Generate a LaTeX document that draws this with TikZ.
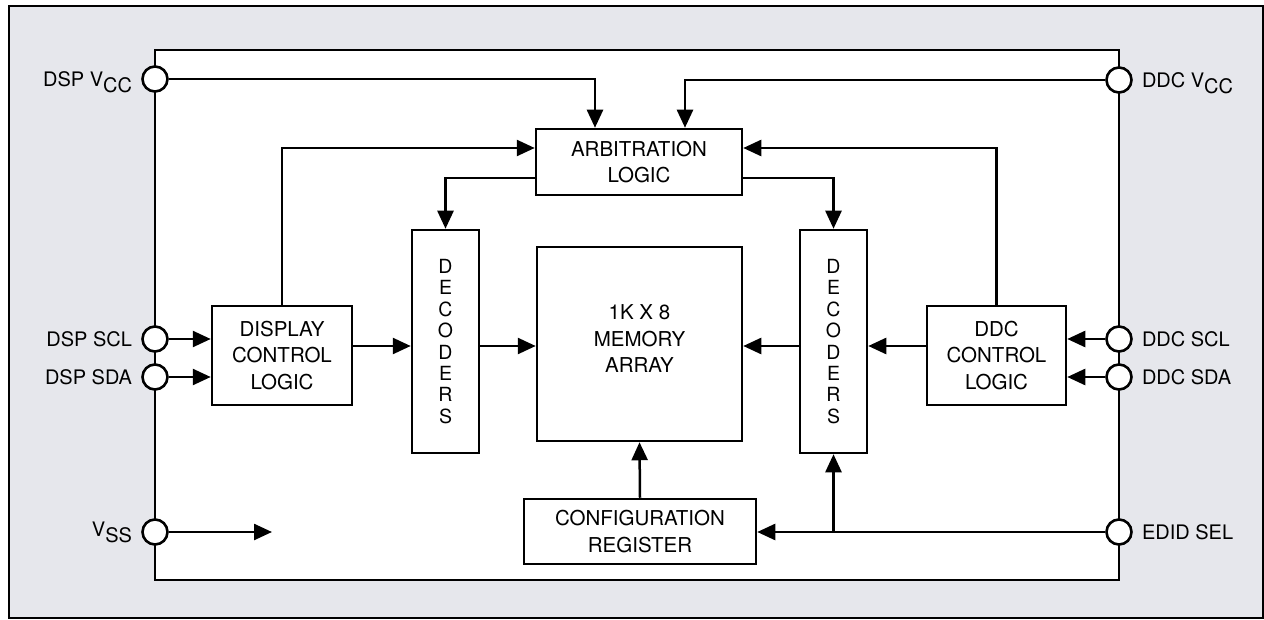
\documentclass[tikz,border=0pt]{standalone}
\usepackage{fontspec}
\setmainfont{TeX Gyre Heros}
\usetikzlibrary{arrows.meta}
\definecolor{panel}{RGB}{230,231,236}
\begin{document}
\begin{tikzpicture}[x=1pt,y=-1pt,
  blk/.style={draw,line width=2.5pt,fill=white,inner sep=0pt,align=center,font=\fontsize{20.5}{26.5}\selectfont},
  pin/.style={circle,draw,fill=white,line width=2.6pt,minimum size=25pt,inner sep=0pt},
  wire/.style={line width=2.5pt},
  arr/.style={wire,-{Triangle[length=18pt,width=16pt]}},
  lbl/.style={font=\fontsize{20}{24}\selectfont,inner sep=0pt}]
\useasboundingbox (0,0) rectangle (1264,620);
\draw[line width=2.4pt,fill=panel] (9,6) rectangle (1263,618);
\draw[line width=2.5pt,fill=white] (155,50) rectangle (1119,580);
% blocks
\node[blk,minimum width=206pt,minimum height=66pt] (arb) at (639,162) {ARBITRATION\\LOGIC};
\node[blk,minimum width=67pt,minimum height=223pt,font=\fontsize{19.5}{21.4}\selectfont] (decL) at (445.5,341.5) {D\\E\\C\\O\\D\\E\\R\\S};
\node[blk,minimum width=67pt,minimum height=223pt,font=\fontsize{19.5}{21.4}\selectfont] (decR) at (833.5,341.5) {D\\E\\C\\O\\D\\E\\R\\S};
\node[blk,minimum width=205pt,minimum height=194pt] (mem) at (639.5,344) {};
\node[align=center,inner sep=0pt,font=\fontsize{20.5}{26.5}\selectfont] (memtxt) at ([yshift=5pt]mem.center) {1K X 8\\MEMORY\\ARRAY};
\node[blk,minimum width=140pt,minimum height=99pt] (dcl) at (282,355.5) {DISPLAY\\CONTROL\\LOGIC};
\node[blk,minimum width=139pt,minimum height=99pt] (ddc) at (996.5,355.5) {DDC\\CONTROL\\LOGIC};
\node[blk,minimum width=232pt,minimum height=65pt] (cfg) at (640,531.5) {CONFIGURATION\\REGISTER};
% pins
\node[pin] (dspvcc) at (155,79) {};
\node[pin] (dspscl) at (155,339) {};
\node[pin] (dspsda) at (155,377) {};
\node[pin] (vss) at (155,532) {};
\node[pin] (ddcvcc) at (1119,80) {};
\node[pin] (ddcscl) at (1119,339) {};
\node[pin] (ddcsda) at (1119,377) {};
\node[pin] (edid) at (1119,532) {};
% pin labels
\node[lbl,anchor=base east] (l1) at ([xshift=-9pt,yshift=-7.5pt]dspvcc.west) {DSP V\raisebox{-6pt}{CC}};
\node[lbl,anchor=base east] (l2) at ([xshift=-9pt,yshift=-7.5pt]dspscl.west) {DSP SCL};
\node[lbl,anchor=base east] (l3) at ([xshift=-9pt,yshift=-7.5pt]dspsda.west) {DSP SDA};
\node[lbl,anchor=base east] (l4) at ([xshift=-9pt,yshift=-4pt]vss.west) {V\raisebox{-6pt}{SS}};
\node[lbl,anchor=base west] (r1) at ([xshift=9pt,yshift=-7.5pt]ddcvcc.east) {DDC V\raisebox{-6pt}{CC}};
\node[lbl,anchor=base west] (r2) at ([xshift=9pt,yshift=-7.5pt]ddcscl.east) {DDC SCL};
\node[lbl,anchor=base west] (r3) at ([xshift=9pt,yshift=-7.5pt]ddcsda.east) {DDC SDA};
\node[lbl,anchor=base west] (r4) at ([xshift=9pt,yshift=-7.5pt]edid.east) {EDID SEL};
% wires
\coordinate (mid) at (0,346);
\coordinate (vssend) at (272,532);
\draw[arr] (dspvcc.east) -| ([xshift=-44pt]arb.north);
\draw[arr] (ddcvcc.west) -| ([xshift=46pt]arb.north);
\draw[arr] (dcl.north) |- ([yshift=14pt]arb.west);
\draw[arr] (ddc.north) |- ([yshift=14pt]arb.east);
\draw[arr] ([yshift=-16pt]arb.west) -| (decL.north);
\draw[arr] ([yshift=-16pt]arb.east) -| (decR.north);
\draw[arr] (dcl.east |- mid) -- (decL.west |- mid);
\draw[arr] (decL.east |- mid) -- (mem.west |- mid);
\draw[arr] (ddc.west |- mid) -- (decR.east |- mid);
\draw[arr] (decR.west |- mid) -- (mem.east |- mid);
\draw[arr] (cfg.north) -- (mem.south);
\draw[arr] (dspscl.east) -- (dspscl.east -| dcl.west);
\draw[arr] (dspsda.east) -- (dspsda.east -| dcl.west);
\draw[arr] (ddcscl.west) -- (ddcscl.west -| ddc.east);
\draw[arr] (ddcsda.west) -- (ddcsda.west -| ddc.east);
\draw[arr] (vss.east) -- (vssend);
\draw[arr] (edid.west) -- (edid.west -| cfg.east);
\coordinate (br) at (decR.south |- edid.west);
\draw[arr] (br) -- (decR.south);
\end{tikzpicture}
\end{document}
